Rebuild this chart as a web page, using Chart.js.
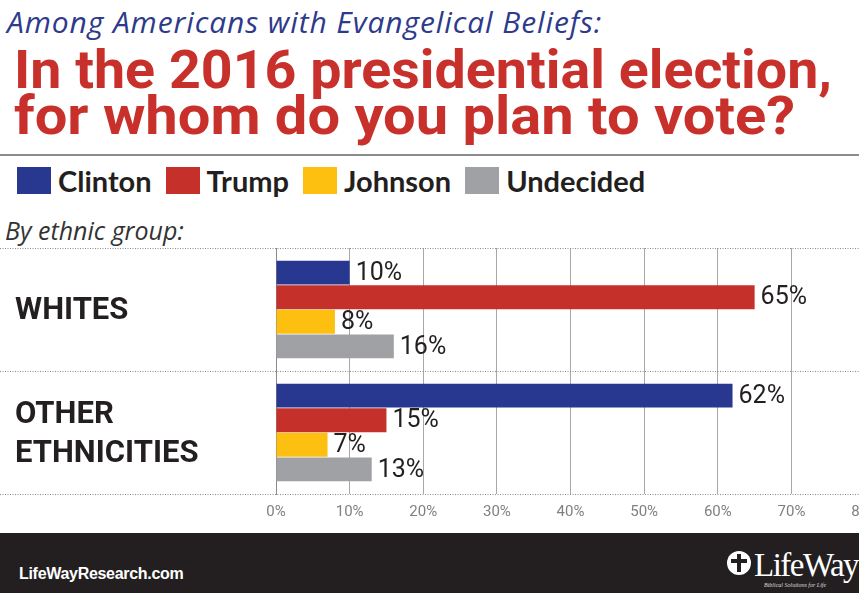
<!DOCTYPE html>
<html>
<head>
<meta charset="utf-8">
<script src="https://cdn.jsdelivr.net/npm/chart.js@4.4.1/dist/chart.umd.min.js"></script>
<style>
  html, body { margin: 0; padding: 0; }
  body { width: 859px; height: 593px; overflow: hidden; position: relative; background: #fff; }
  #sub { position: absolute; left: 7px; top: 1px; font: italic 30px "Open Sans", sans-serif; color: #2e3a8c; white-space: nowrap; letter-spacing: 0.9px; }
  #title { position: absolute; left: 14px; top: 47px; font: bold 54px Roboto, sans-serif; line-height: 46px; color: #c8312b; white-space: nowrap; }
  #title div { transform-origin: 0 0; }
  #rule { position: absolute; left: 0; top: 154px; width: 859px; height: 2px; background: #8c8c8c; }
  #legend { position: absolute; left: 17px; top: 163px; display: flex; align-items: center; font: bold 29px Lato, sans-serif; color: #231f20; }
  #legend span.box { display: inline-block; width: 34px; height: 27px; margin-right: 7px; }
  #legend span.item { display: flex; align-items: center; margin-right: 14px; }
  #by { position: absolute; left: 5px; top: 213px; font: italic 25px "Open Sans", sans-serif; color: #333; }
  #wrap { position: absolute; left: 0; top: 240px; width: 888px; height: 290px; }
  #foot { position: absolute; left: 0; top: 533px; width: 859px; height: 60px; background: #231f20; color: #fff; }
  #site { position: absolute; left: 19px; top: 32px; font: bold 16px "Liberation Sans", Arial, sans-serif; letter-spacing: -0.3px; }
  #logo { position: absolute; left: 727px; top: 14px; font: 33px "Liberation Serif", serif; letter-spacing: -1.5px; white-space: nowrap; }
  #logo .mark { display: inline-block; width: 24px; height: 24px; border-radius: 50%; background: #fff; vertical-align: 1px; margin-right: 3px; position: relative; }
  #logo .mark:before { content: ""; position: absolute; left: 10px; top: 3px; width: 4px; height: 18px; background: #231f20; }
  #logo .mark:after { content: ""; position: absolute; left: 4px; top: 8px; width: 16px; height: 4px; background: #231f20; }
  #tag { position: absolute; left: 764px; top: 49px; font: italic 6px "Liberation Serif", serif; color: #ddd; white-space: nowrap; }
</style>
</head>
<body>
<div id="sub">Among Americans with Evangelical Beliefs:</div>
<div id="title"><div id="t1">In the 2016 presidential election,</div><div id="t2">for whom do you plan to vote?</div></div>
<div id="rule"></div>
<div id="legend"></div>
<div id="by">By ethnic group:</div>
<div id="wrap"><canvas id="myChart"></canvas></div>
<div id="foot">
  <div id="site">LifeWayResearch.com</div>
  <div id="logo"><span class="mark"></span>LifeWay</div>
  <div id="tag">Biblical Solutions for Life</div>
</div>
<script>
// groups and candidate shares (%)
const groups = ["WHITES", ["OTHER", "ETHNICITIES"]];
const candidates = ["Clinton", "Trump", "Johnson", "Undecided"];
const clinton = [10, 62];
const trump = [65, 15];
const johnson = [8, 7];
const undecided = [16, 13];
const xTicks = [0, 10, 20, 30, 40, 50, 60, 70, 80];

const colors = ["#283891", "#c5302a", "#fdc010", "#a0a1a4"];

// squeeze the headline lines to their set widths (condensed look)
const squeeze = (el, w) => {
  el.style.display = "inline-block";
  el.style.transform = `scaleX(${w / el.getBoundingClientRect().width})`;
  el.style.display = "block";
};
squeeze(document.querySelector("#t1"), 818);
squeeze(document.querySelector("#t2"), 781);

// legend row
const legendEl = document.querySelector("#legend");
candidates.forEach((name, i) => {
  legendEl.insertAdjacentHTML("beforeend",
    `<span class="item"><span class="box" style="background:${colors[i]}"></span>${name}</span>`);
});

// dotted separators between groups, full canvas width
const separators = {
  id: "separators",
  beforeDatasetsDraw(chart) {
    const y = chart.scales.y;
    const ctx = chart.ctx;
    const half = (y.getPixelForValue(1) - y.getPixelForValue(0)) / 2;
    ctx.save();
    ctx.strokeStyle = "#8a8a8a";
    ctx.lineWidth = 1;
    ctx.setLineDash([1, 1.5]);
    for (let i = 0; i <= groups.length; i++) {
      const py = Math.round(y.getPixelForValue(i) - half) + 0.5;
      ctx.beginPath();
      ctx.moveTo(0, py);
      ctx.lineTo(chart.width, py);
      ctx.stroke();
    }
    ctx.restore();
  },
};

// percent labels at bar ends
const valueLabels = {
  id: "valueLabels",
  afterDatasetsDraw(chart) {
    const ctx = chart.ctx;
    ctx.save();
    ctx.fillStyle = "#231f20";
    ctx.font = "25px Roboto, sans-serif";
    ctx.textBaseline = "middle";
    chart.data.datasets.forEach((ds, di) => {
      chart.getDatasetMeta(di).data.forEach((bar, i) => {
        ctx.fillText(ds.data[i] + "%", bar.x + 6, bar.y + 1);
      });
    });
    ctx.restore();
  },
};

const series = [clinton, trump, johnson, undecided];
const myChart = new Chart(document.getElementById("myChart"), {
  type: "bar",
  data: {
    labels: groups,
    datasets: series.map((data, i) => ({
      label: candidates[i],
      data: data,
      backgroundColor: colors[i],
      categoryPercentage: 0.8,
      barPercentage: 0.97,
    })),
  },
  options: {
    indexAxis: "y",
    responsive: true,
    maintainAspectRatio: false,
    animation: false,
    layout: { padding: { top: 8, left: 15, right: 0, bottom: 0 } },
    plugins: { legend: { display: false }, tooltip: { enabled: false } },
    scales: {
      x: {
        min: 0,
        max: 80,
        afterBuildTicks: (scale) => { scale.ticks = xTicks.map((v) => ({ value: v })); },
        grid: { color: "#a8a8a8", drawTicks: false },
        border: { display: false },
        ticks: {
          padding: 9,
          color: "#808080",
          font: { family: "Roboto, sans-serif", size: 15 },
          callback: (v) => v + "%",
        },
      },
      y: {
        afterFit: (scale) => {
          scale.width = 261;
          scale.paddingTop = 0;
          scale.paddingBottom = 0;
        },
        grid: { display: false },
        border: { display: true, color: "#8a8a8a" },
        ticks: {
          crossAlign: "far",
          labelOffset: 2,
          color: "#231f20",
          font: { family: "Roboto, sans-serif", size: 31, weight: "bold", lineHeight: 1.25 },
        },
      },
    },
  },
  plugins: [separators, valueLabels],
});
</script>
</body>
</html>
